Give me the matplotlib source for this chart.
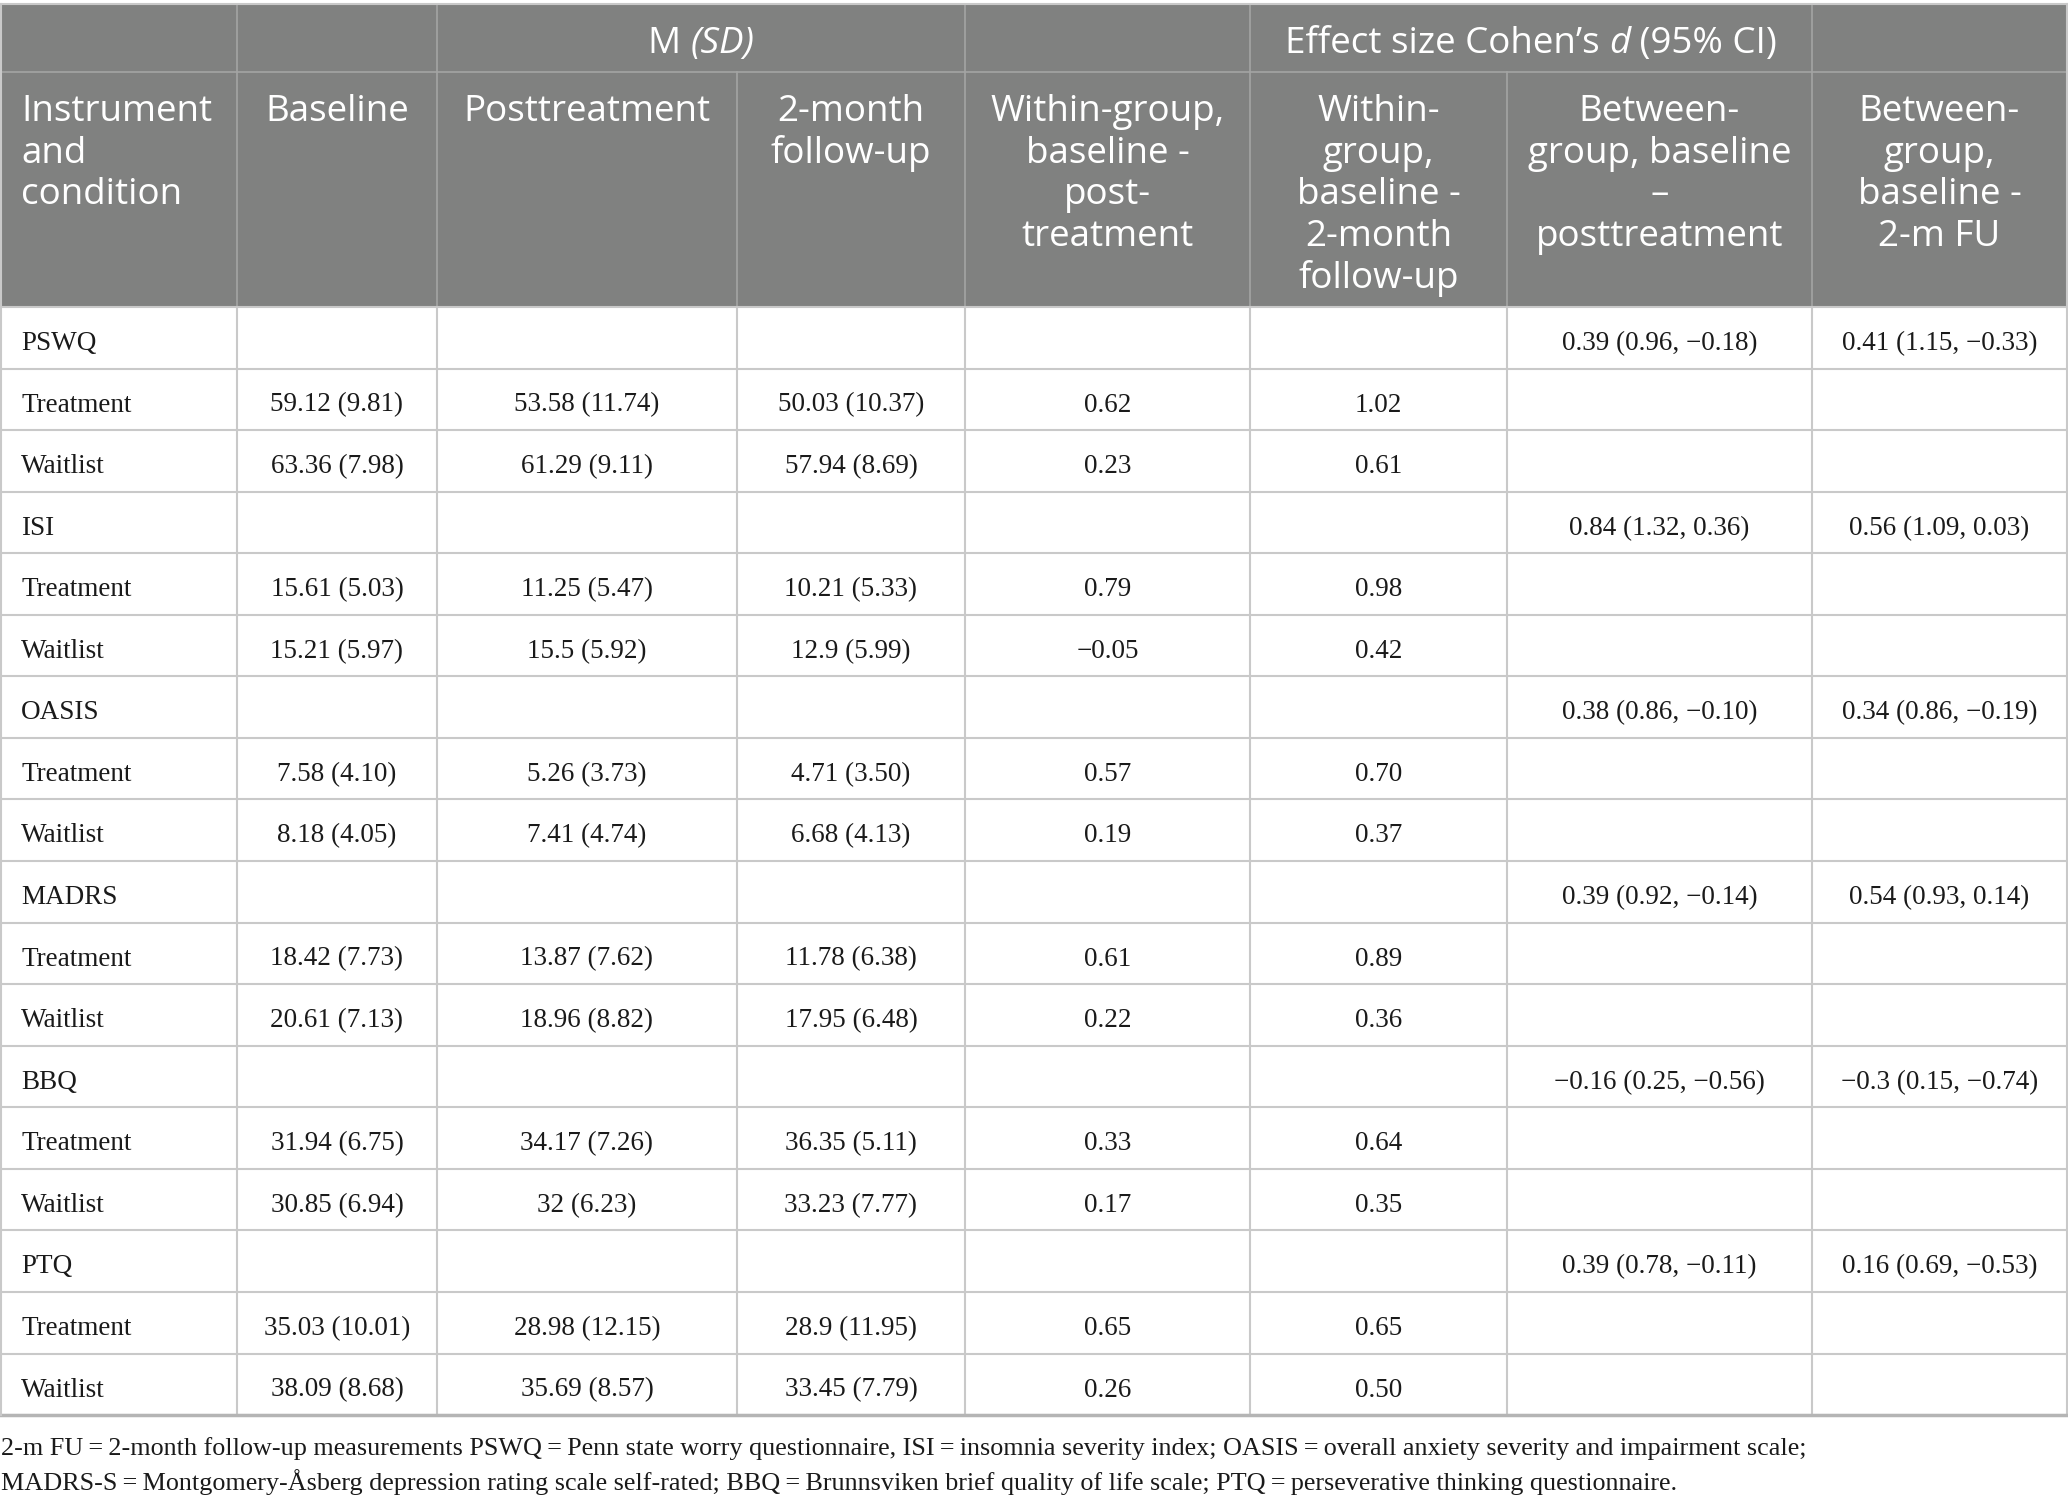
import matplotlib
matplotlib.use("Agg")
import matplotlib.pyplot as plt
from matplotlib.patches import Rectangle

# ---- table data ----
INSTRUMENTS = ["PSWQ", "ISI", "OASIS", "MADRS", "BBQ", "PTQ"]
CONDITIONS = ["Treatment", "Waitlist"]

# M (SD) per instrument: [treatment row, waitlist row]
BASELINE = [["59.12 (9.81)", "63.36 (7.98)"], ["15.61 (5.03)", "15.21 (5.97)"],
            ["7.58 (4.10)", "8.18 (4.05)"], ["18.42 (7.73)", "20.61 (7.13)"],
            ["31.94 (6.75)", "30.85 (6.94)"], ["35.03 (10.01)", "38.09 (8.68)"]]
POST = [["53.58 (11.74)", "61.29 (9.11)"], ["11.25 (5.47)", "15.5 (5.92)"],
        ["5.26 (3.73)", "7.41 (4.74)"], ["13.87 (7.62)", "18.96 (8.82)"],
        ["34.17 (7.26)", "32 (6.23)"], ["28.98 (12.15)", "35.69 (8.57)"]]
FOLLOWUP = [["50.03 (10.37)", "57.94 (8.69)"], ["10.21 (5.33)", "12.9 (5.99)"],
            ["4.71 (3.50)", "6.68 (4.13)"], ["11.78 (6.38)", "17.95 (6.48)"],
            ["36.35 (5.11)", "33.23 (7.77)"], ["28.9 (11.95)", "33.45 (7.79)"]]
WITHIN_POST = [["0.62", "0.23"], ["0.79", "\u22120.05"], ["0.57", "0.19"],
               ["0.61", "0.22"], ["0.33", "0.17"], ["0.65", "0.26"]]
WITHIN_FU = [["1.02", "0.61"], ["0.98", "0.42"], ["0.70", "0.37"],
             ["0.89", "0.36"], ["0.64", "0.35"], ["0.65", "0.50"]]
BETWEEN_POST = ["0.39 (0.96, \u22120.18)", "0.84 (1.32, 0.36)", "0.38 (0.86, \u22120.10)",
                "0.39 (0.92, \u22120.14)", "\u22120.16 (0.25, \u22120.56)", "0.39 (0.78, \u22120.11)"]
BETWEEN_FU = ["0.41 (1.15, \u22120.33)", "0.56 (1.09, 0.03)", "0.34 (0.86, \u22120.19)",
              "0.54 (0.93, 0.14)", "\u22120.3 (0.15, \u22120.74)", "0.16 (0.69, \u22120.53)"]

HEADERS = [["Instrument", "and", "condition"],
           ["Baseline"],
           ["Posttreatment"],
           ["2-month", "follow-up"],
           ["Within-group,", "baseline -", "post-", "treatment"],
           ["Within-", "group,", "baseline -", "2-month", "follow-up"],
           ["Between-", "group, baseline", "\u2013", "posttreatment"],
           ["Between-", "group,", "baseline -", "2-m FU"]]

FOOTNOTE = [
    "2-m FU\u2009=\u20092-month follow-up measurements PSWQ\u2009=\u2009Penn state worry questionnaire, "
    "ISI\u2009=\u2009insomnia severity index; OASIS\u2009=\u2009overall anxiety severity and impairment scale;",
    "MADRS-S\u2009=\u2009Montgomery-\u00c5sberg depression rating scale self-rated; "
    "BBQ\u2009=\u2009Brunnsviken brief quality of life scale; PTQ\u2009=\u2009perseverative thinking questionnaire.",
]

# ---- layout (pixel coordinates) ----
W, H = 2068, 1506
COL_X = [0, 237, 437, 737, 965, 1250, 1507, 1812, 2067]
TOP, HEAD1, HEAD2 = 4, 72, 307
ROW_H = 61.56
BOTTOM = HEAD2 + 18 * ROW_H

HEAD_BG = "#808180"
HEAD_LINE = "#a3a4a3"
BODY_LINE = "#c9c9c9"
SANS = ["Open Sans", "DejaVu Sans"]
SERIF = ["Liberation Serif", "DejaVu Serif"]
HEAD_FS = 26.5
BODY_FS = 19.5
FOOT_FS = 18.8
TEXT_COL = "#1a1a1a"

fig = plt.figure(figsize=(W / 100, H / 100), dpi=100)
ax = fig.add_axes([0, 0, 1, 1])
ax.set_xlim(0, W)
ax.set_ylim(H, 0)
ax.axis("off")

# header background
ax.add_patch(Rectangle((0, TOP), COL_X[-1], HEAD2 - TOP, facecolor=HEAD_BG, edgecolor="none"))

# header grid lines
ax.plot([0, COL_X[-1]], [HEAD1, HEAD1], color=HEAD_LINE, lw=1.2)
for x in [237, 437, 965, 1250, 1812]:
    ax.plot([x, x], [TOP, HEAD1], color=HEAD_LINE, lw=1.2)
for x in COL_X[1:-1]:
    ax.plot([x, x], [HEAD1, HEAD2], color=HEAD_LINE, lw=1.2)

# body grid lines
for i in range(19):
    y = HEAD2 + i * ROW_H
    ax.plot([0, COL_X[-1]], [y, y], color=BODY_LINE, lw=1.5)
for x in COL_X:
    ax.plot([x, x], [HEAD2, BOTTOM], color=BODY_LINE, lw=1.5)
ax.plot([0, COL_X[-1]], [TOP, TOP], color="#c9c9c9", lw=1.5)
ax.plot([0, COL_X[-1]], [BOTTOM, BOTTOM], color="#b5b5b5", lw=2.5)
ax.plot([0.8, 0.8], [TOP, BOTTOM], color="#c9c9c9", lw=1.5)
ax.plot([COL_X[-1], COL_X[-1]], [TOP, HEAD2], color="#c9c9c9", lw=1.5)

fig.canvas.draw()
renderer = fig.canvas.get_renderer()


def mixed_text(cx, y, parts, fs, family, color):
    """Centered text made of (string, style) pieces."""
    arts = []
    for s, style in parts:
        t = ax.text(0, y, s, fontsize=fs, family=family, style=style, color=color,
                    ha="left", va="baseline")
        arts.append(t)
    widths = [t.get_window_extent(renderer).width for t in arts]
    x = cx - sum(widths) / 2
    for t, w in zip(arts, widths):
        t.set_x(x)
        x += w


# first header row
mixed_text((437 + 965) / 2, 53, [("M ", "normal"), ("(SD)", "italic")], HEAD_FS, SANS, "white")
mixed_text((1250 + 1812) / 2, 53, [("Effect size Cohen\u2019s ", "normal"), ("d", "italic"),
                                   (" (95% CI)", "normal")], HEAD_FS, SANS, "white")

# second header row
for c, lines in enumerate(HEADERS):
    for k, line in enumerate(lines):
        y = 121 + k * 41.7
        if c == 0:
            ax.text(21, y, line, fontsize=HEAD_FS, family=SANS, color="white", ha="left", va="baseline")
        else:
            cx = (COL_X[c] + COL_X[c + 1]) / 2
            ax.text(cx, y, line, fontsize=HEAD_FS, family=SANS, color="white", ha="center", va="baseline")

# body rows
row = 0
for i, inst in enumerate(INSTRUMENTS):
    rows = [[inst, "", "", "", "", "", BETWEEN_POST[i], BETWEEN_FU[i]]]
    for j, cond in enumerate(CONDITIONS):
        rows.append([cond, BASELINE[i][j], POST[i][j], FOLLOWUP[i][j],
                     WITHIN_POST[i][j], WITHIN_FU[i][j], "", ""])
    for cells in rows:
        y = HEAD2 + row * ROW_H + 43
        for c, s in enumerate(cells):
            if not s:
                continue
            if c == 0:
                ax.text(21, y, s, fontsize=BODY_FS, family=SERIF, color=TEXT_COL,
                        ha="left", va="baseline")
            else:
                cx = (COL_X[c] + COL_X[c + 1]) / 2
                ax.text(cx, y, s, fontsize=BODY_FS, family=SERIF, color=TEXT_COL,
                        ha="center", va="baseline")
        row += 1

# footnote
for k, line in enumerate(FOOTNOTE):
    ax.text(1, 1455 + k * 35, line, fontsize=FOOT_FS, family=SERIF, color=TEXT_COL,
            ha="left", va="baseline")

fig.savefig("out.png", dpi=100, facecolor="white")
